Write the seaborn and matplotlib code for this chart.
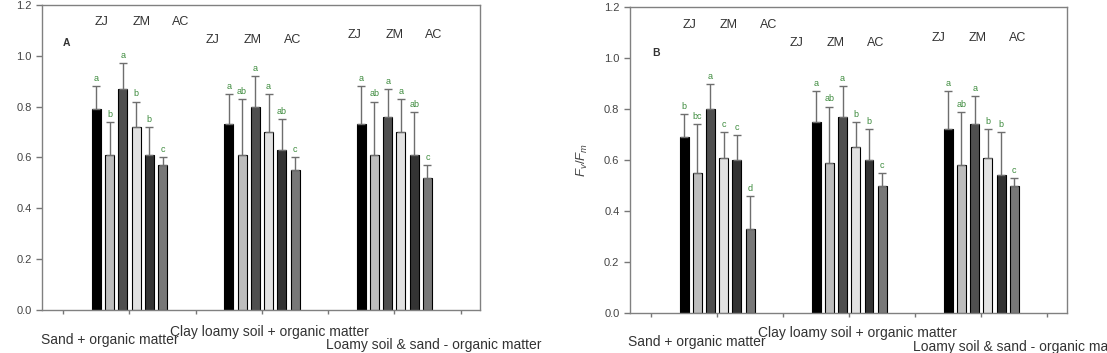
import matplotlib
matplotlib.use("Agg")
import matplotlib.pyplot as plt
import matplotlib.transforms as mtransforms
import seaborn as sns
import pandas as pd

# soil substrates (x groups) and the six bars inside each group
groups = ["Sand + organic matter",
          "Clay loamy soil + organic matter",
          "Loamy soil & sand - organic matter"]
treatments = ["ZJ 1", "ZJ 2", "ZM 1", "ZM 2", "AC 1", "AC 2"]
species = ["ZJ", "ZM", "AC"]

# panel A: means, upper error, significance letters (group by group)
a_mean = [0.79, 0.61, 0.87, 0.72, 0.61, 0.57,
          0.73, 0.61, 0.80, 0.70, 0.63, 0.55,
          0.73, 0.61, 0.76, 0.70, 0.61, 0.52]
a_err = [0.09, 0.13, 0.10, 0.10, 0.11, 0.03,
         0.12, 0.22, 0.12, 0.15, 0.12, 0.05,
         0.15, 0.21, 0.11, 0.13, 0.17, 0.05]
a_letters = ["a", "b", "a", "b", "b", "c",
             "a", "ab", "a", "a", "ab", "c",
             "a", "ab", "a", "a", "ab", "c"]

# panel B
b_mean = [0.69, 0.55, 0.80, 0.61, 0.60, 0.33,
          0.75, 0.59, 0.77, 0.65, 0.60, 0.50,
          0.72, 0.58, 0.74, 0.61, 0.54, 0.50]
b_err = [0.09, 0.19, 0.10, 0.10, 0.10, 0.13,
         0.12, 0.22, 0.12, 0.10, 0.12, 0.05,
         0.15, 0.21, 0.11, 0.11, 0.17, 0.03]
b_letters = ["b", "bc", "a", "c", "c", "d",
             "a", "ab", "a", "b", "b", "c",
             "a", "ab", "a", "b", "b", "c"]

colors = ["#000000", "#bdbdbd", "#4f4f4f", "#e2e2e2", "#333333", "#787878"]

plt.rcParams["font.family"] = ["Liberation Sans", "DejaVu Sans"]
plt.rcParams["mathtext.fontset"] = "custom"
plt.rcParams["mathtext.it"] = "Liberation Sans:italic"
plt.rcParams["mathtext.rm"] = "Liberation Sans"

fig = plt.figure(figsize=(11.07, 3.53), dpi=100, facecolor="white")
ax_a = fig.add_axes([0.038, 0.122, 0.396, 0.864])
ax_b = fig.add_axes([0.569, 0.113, 0.395, 0.867])


def draw_panel(ax, mean, err, letters, tag, sp_y, sp_shift, cat_x, cat_y):
    n = len(treatments)
    df = pd.DataFrame({
        "pos": [2 * (i // n) + 1 for i in range(len(mean))],
        "treatment": [treatments[i % n] for i in range(len(mean))],
        "value": mean,
    })
    sns.barplot(data=df, x="pos", y="value", hue="treatment",
                hue_order=treatments, palette=colors, native_scale=True,
                width=0.6, gap=0.32, errorbar=None, legend=False,
                edgecolor="black", linewidth=0.8, ax=ax)

    # error bars and letters placed on the bars seaborn drew
    bars = sorted(ax.patches, key=lambda p: p.get_x())
    xs = [p.get_x() + p.get_width() / 2 for p in bars]
    tops = [p.get_height() for p in bars]
    ax.errorbar(xs, tops, yerr=[[0] * len(err), err], fmt="none",
                ecolor="#6e6e6e", elinewidth=1.0, capsize=3.2,
                capthick=1.0, zorder=1)
    for x, t, e, lab in zip(xs, tops, err, letters):
        ax.text(x, t + e + 0.012, lab, ha="center", va="bottom",
                fontsize=6.5, color="#3d8b3d")

    ax.set_xlim(-0.32, 6.3)
    ax.set_ylim(0, 1.2)
    ax.set_xticks(range(7))
    ax.set_xticklabels([])
    ax.set_yticks([0, 0.2, 0.4, 0.6, 0.8, 1.0, 1.2])
    ax.set_yticklabels([f"{v:.1f}" for v in ax.get_yticks()])
    ax.tick_params(axis="both", colors="#777777", labelcolor="#444444",
                   labelsize=8, length=4, width=1)
    ax.tick_params(axis="x", length=3)
    ax.set_xlabel("")
    ax.set_ylabel(r"$F_v/F_m$", fontsize=9.5, color="#444444", labelpad=10)
    for s in ax.spines.values():
        s.set_visible(True)
        s.set_color("#808080")
        s.set_linewidth(1.0)

    ax.text(tag[1], tag[2], tag[0], fontsize=7.5, fontweight="bold",
            color="#333333", ha="center", va="center")

    # species headers above each group
    for g in range(len(groups)):
        for k, sp in enumerate(species):
            ax.text(2 * g + 1 + (k - 1) * 0.6 + sp_shift[g], sp_y[g], sp,
                    fontsize=9, color="#333333", ha="center", va="center")

    # staggered substrate names under the axis
    trans = mtransforms.blended_transform_factory(ax.transData, ax.transAxes)
    for g, name in enumerate(groups):
        ax.text(cat_x[g], cat_y[g], name, transform=trans, fontsize=10,
                color="#333333", ha="center", va="center", clip_on=False)


draw_panel(ax_a, a_mean, a_err, a_letters, ("A", 0.05, 1.05),
           [1.133, 1.062, 1.082], [0.18, -0.14, 0.0],
           [0.71, 3.12, 5.59], [-0.098, -0.072, -0.115])
draw_panel(ax_b, b_mean, b_err, b_letters, ("B", 0.08, 1.02),
           [1.129, 1.059, 1.078], [0.18, -0.2, -0.05],
           [0.70, 3.13, 5.59], [-0.095, -0.065, -0.111])

fig.savefig("out.png", dpi=100, facecolor="white")
